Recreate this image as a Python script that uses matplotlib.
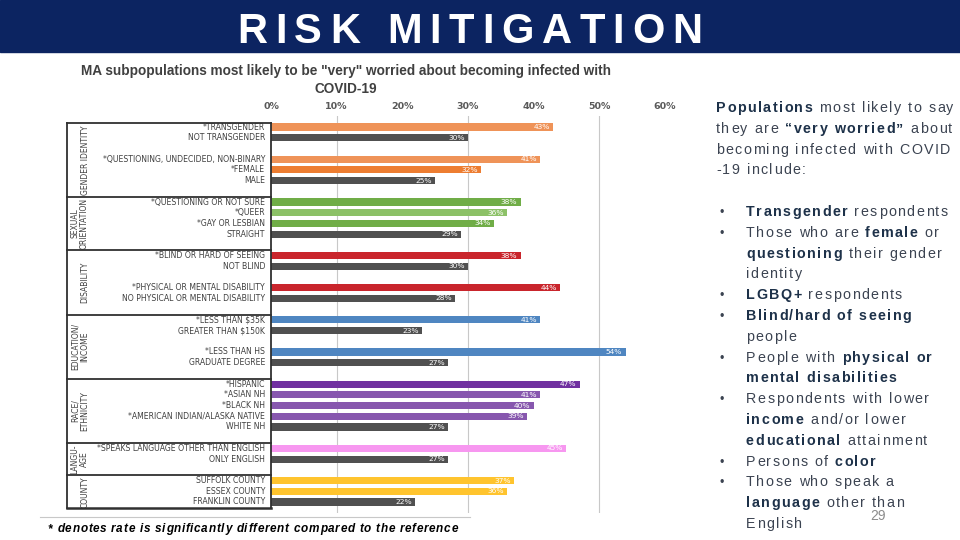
import numpy as np
import matplotlib
matplotlib.use("Agg")
import matplotlib.pyplot as plt
from matplotlib.patches import Rectangle
from matplotlib.font_manager import FontProperties, findfont
from matplotlib.ft2font import FT2Font

# ---------------- data ----------------
group_names = ["GENDER IDENTITY", "SEXUAL\nORIENTATION", "DISABILITY",
               "EDUCATION/\nINCOME", "RACE/\nETHNICITY", "LANGU-\nAGE", "COUNTY"]

gender_labels = ["*TRANSGENDER", "NOT TRANSGENDER", "",
                 "*QUESTIONING, UNDECIDED, NON-BINARY", "*FEMALE", "MALE"]
gender_pct = [43, 30, None, 41, 32, 25]

orient_labels = ["*QUESTIONING OR NOT SURE", "*QUEER", "*GAY OR LESBIAN", "STRAIGHT"]
orient_pct = [38, 36, 34, 29]

disab_labels = ["*BLIND OR HARD OF SEEING", "NOT BLIND", "",
                "*PHYSICAL OR MENTAL DISABILITY", "NO PHYSICAL OR MENTAL DISABILITY"]
disab_pct = [38, 30, None, 44, 28]

edu_labels = ["*LESS THAN \\$35K", "GREATER THAN \\$150K", "",
              "*LESS THAN HS", "GRADUATE DEGREE"]
edu_pct = [41, 23, None, 54, 27]

race_labels = ["*HISPANIC", "*ASIAN NH", "*BLACK NH",
               "*AMERICAN INDIAN/ALASKA NATIVE", "WHITE NH"]
race_pct = [47, 41, 40, 39, 27]

lang_labels = ["*SPEAKS LANGUAGE OTHER THAN ENGLISH", "ONLY ENGLISH"]
lang_pct = [45, 27]

county_labels = ["SUFFOLK COUNTY", "ESSEX COUNTY", "FRANKLIN COUNTY"]
county_pct = [37, 36, 22]

xticks = [0, 10, 20, 30, 40, 50, 60]

# colours (style, kept apart from the values)
ORANGE_L, ORANGE, GRAY = "#ef9358", "#ed7d31", "#505050"
GREEN, GREEN_L, RED, BLUE = "#70ad47", "#8cc167", "#c9252c", "#4f86c1"
PURPLE_D, PURPLE, PINK, YELLOW = "#7030a0", "#8757ae", "#f797f0", "#ffc42e"
gender_col = [ORANGE_L, GRAY, None, ORANGE_L, ORANGE, GRAY]
orient_col = [GREEN, GREEN_L, GREEN, GRAY]
disab_col = [RED, GRAY, None, RED, GRAY]
edu_col = [BLUE, GRAY, None, BLUE, GRAY]
race_col = [PURPLE_D, PURPLE, PURPLE, PURPLE, GRAY]
lang_col = [PINK, GRAY]
county_col = [YELLOW, YELLOW, GRAY]

groups = [(gender_labels, gender_pct, gender_col),
          (orient_labels, orient_pct, orient_col),
          (disab_labels, disab_pct, disab_col),
          (edu_labels, edu_pct, edu_col),
          (race_labels, race_pct, race_col),
          (lang_labels, lang_pct, lang_col),
          (county_labels, county_pct, county_col)]

chart_title = ('MA subpopulations most likely to be "very" worried about becoming infected with\n'
               'COVID-19')
footnote = "* denotes rate is significantly different compared to the reference"

# right-hand text: (text, bold) pieces per line, bullet flag
intro_lines = [
    [("Populations", True), (" most likely to say", False)],
    [("they are", False), (" \u201cvery worried\u201d", True), (" about", False)],
    [("becoming infected with COVID", False)],
    [("-19 include:", False)],
]
bullet_lines = [
    (True, [("Transgender", True), (" respondents", False)]),
    (True, [("Those who are", False), (" female", True), (" or", False)]),
    (False, [("questioning", True), (" their gender", False)]),
    (False, [("identity", False)]),
    (True, [("LGBQ+", True), (" respondents", False)]),
    (True, [("Blind/hard of seeing", True)]),
    (False, [("people", False)]),
    (True, [("People with", False), (" physical or", True)]),
    (False, [("mental disabilities", True)]),
    (True, [("Respondents with lower", False)]),
    (False, [("income", True), (" and/or lower", False)]),
    (False, [("educational", True), (" attainment", False)]),
    (True, [("Persons of", False), (" color", True)]),
    (True, [("Those who speak a", False)]),
    (False, [("language", True), (" other than", False)]),
    (False, [("English", False)]),
]

# ---------------- figure ----------------
NARROW = ["Liberation Sans Narrow", "DejaVu Sans"]
SANS = "Liberation Sans"

fig = plt.figure(figsize=(9.6, 5.4), dpi=100)
ov = fig.add_axes([0, 0, 1, 1])
ov.set_xlim(0, 960)
ov.set_ylim(540, 0)
ov.axis("off")

_fonts = {}


def advance(ch, weight, style, size):
    key = (weight, style, size)
    if key not in _fonts:
        fp = FontProperties(family=SANS, weight=weight, style=style)
        f = FT2Font(findfont(fp))
        f.set_size(size, 100)
        _fonts[key] = f
    g = _fonts[key].load_char(ord(ch))
    return g.linearHoriAdvance / 65536.0


def tracked(x, y, pieces, size, track, colors, style="normal"):
    # letter-spaced text drawn char by char, pen starting at x (pixels)
    pen = x
    for txt, bold in pieces:
        w = "bold" if bold else "normal"
        for ch in txt:
            if ch != " ":
                ov.text(pen, y, ch, ha="left", va="baseline", fontsize=size,
                        family=SANS, fontweight=w, fontstyle=style,
                        color=colors[bold])
            pen += advance(ch, w, style, size) + track
    return pen


# title bar
ov.add_patch(Rectangle((0, 0), 960, 52, color="#0c2461", zorder=0))
tracked(237, 43, [("RISK MITIGATION", True)], 30, 7.8, {True: "white", False: "white"})

# chart title
ov.text(346, 80, chart_title, ha="center", va="center", fontsize=9.8,
        fontweight="bold", color="#404040", family=SANS, linespacing=1.3)

# build rows
labels, values, colors, slots = [], [], [], []
group_first, group_last = [], []
s = 0
for lab, val, col in groups:
    group_first.append(s)
    for l, v, c in zip(lab, val, col):
        labels.append(l)
        values.append(v)
        colors.append(c)
        slots.append(s)
        s += 1
    group_last.append(s - 1)
    s += 1
n_slots = s - 1

ax = fig.add_axes([271 / 960, (540 - 512.7) / 540, 394 / 960, 396.4 / 540])
ax.set_xlim(0, 60)
ax.set_ylim(n_slots, -1)
for sp in ax.spines.values():
    sp.set_visible(False)

for g in (10, 30, 50):
    ax.axvline(g, color="#c8c8c8", lw=0.8, zorder=0)

for y, v, c, l in zip(slots, values, colors, labels):
    if l:
        ax.text(-0.9, y, l, ha="right", va="center", fontsize=5.6,
                family=NARROW, color="#404040")
    if v is None:
        continue
    ax.barh(y, v, height=0.66, color=c, zorder=2)
    ax.text(v - 0.5, y, f"{v}%", ha="right", va="center", fontsize=5.4,
            family=NARROW, color="white", zorder=3)

LEFT = -31
top = group_first[0] - 0.35
bottom = group_last[-1] + 0.6
line_kw = dict(color="#303030", lw=1.3, clip_on=False, zorder=4)
ax.plot([0, 0], [top, bottom], **line_kw)
ax.plot([LEFT, LEFT], [top, bottom], **line_kw)
ax.plot([LEFT, 0], [top, top], **line_kw)
ax.plot([LEFT, 0], [bottom, bottom], color="#303030", lw=1.8, clip_on=False, zorder=4)
for f in group_first[1:]:
    ax.plot([LEFT, 0], [f - 0.5, f - 0.5], **line_kw)

bounds = [top] + [f - 0.5 for f in group_first[1:]] + [bottom]
for i, name in enumerate(group_names):
    cy = (bounds[i] + bounds[i + 1]) / 2
    gx = -29.1 if "\n" in name else -28.3
    ax.text(gx, cy, name, rotation=90, ha="center", va="center", fontsize=5.5,
            family=NARROW, color="#404040", linespacing=1.05)

ax.xaxis.tick_top()
ax.set_xticks(xticks)
ax.set_xticklabels([f"{t}%" for t in xticks])
ax.tick_params(axis="x", length=0, pad=4, labelsize=6.8, labelcolor="#595959")
for t in ax.get_xticklabels():
    t.set_family(NARROW)
    t.set_fontweight("bold")
ax.set_yticks([])

# footnote
ov.plot([40, 470], [517, 517], color="#c8c8c8", lw=0.8)
tracked(48, 532, [(footnote, True)], 8.5, 0.7, {True: "black", False: "black"},
        style="italic")

# right text block
txt_col = {True: "#1d3149", False: "#3b4351"}
base, step = 112, 20.8
for i, pieces in enumerate(intro_lines):
    tracked(716, base + i * step, pieces, 10.3, 1.5, txt_col)
for j, (bul, pieces) in enumerate(bullet_lines):
    y = base + (len(intro_lines) + 1 + j) * step
    if bul:
        ov.text(719, y, "\u2022", ha="left", va="baseline", fontsize=9,
                family=SANS, color=txt_col[False])
    tracked(746, y, pieces, 10.3, 1.5, txt_col)

ov.text(870, 520, "29", ha="left", va="baseline", fontsize=10, family=SANS,
        color="#8c8c8c")

fig.savefig("out.png", dpi=100)
